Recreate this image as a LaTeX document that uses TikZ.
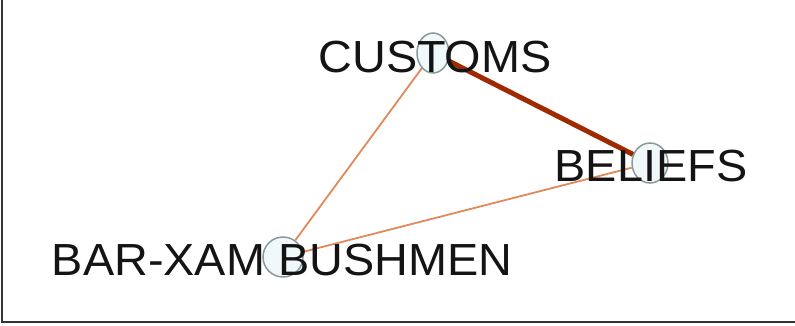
\documentclass[tikz,border=0pt]{standalone}
\usepackage{fontspec}
\setmainfont{Liberation Sans}
\usetikzlibrary{shapes.geometric}
\definecolor{thick}{HTML}{A02A00}
\definecolor{thin}{HTML}{E2895A}
\definecolor{vfill}{HTML}{F0F8FA}
\definecolor{vline}{HTML}{8A9A9A}
\tikzset{
  vert/.style={ellipse, draw=vline, fill=vfill, line width=1.5pt, inner sep=0pt},
  lbl/.style={anchor=base, inner sep=0pt, text=black!92,
    font=\fontsize{45}{45}\selectfont},
  strong/.style={draw=thick, line width=5pt},
  weak/.style={draw=thin, line width=1.8pt},
}
\newcommand{\widetxt}[1]{\scalebox{1.04}[1]{#1}}
\begin{document}
\begin{tikzpicture}[x=1pt,y=-1pt]
\useasboundingbox (0,0) rectangle (795,326);
\draw[line width=2pt, black!80] (2,0) -- (2,321.5) -- (795,321.5);
\node[vert, minimum width=32pt, minimum height=40pt] (cu) at (433,53) {};
\node[vert, minimum width=36pt, minimum height=40pt] (be) at (650,163) {};
\node[vert, minimum width=40pt, minimum height=40pt] (ba) at (283,257) {};
\draw[strong] (cu) -- (be);
\draw[weak] (cu) -- (ba);
\draw[weak] (be) -- (ba);
\node[lbl] (tcu) at (435,73) {\widetxt{CUSTOMS}};
\node[lbl] (tbe) at (651,181) {\widetxt{BELIEFS}};
\node[lbl] (tba) at (282,275) {\widetxt{BAR-XAM BUSHMEN}};
\end{tikzpicture}
\end{document}
